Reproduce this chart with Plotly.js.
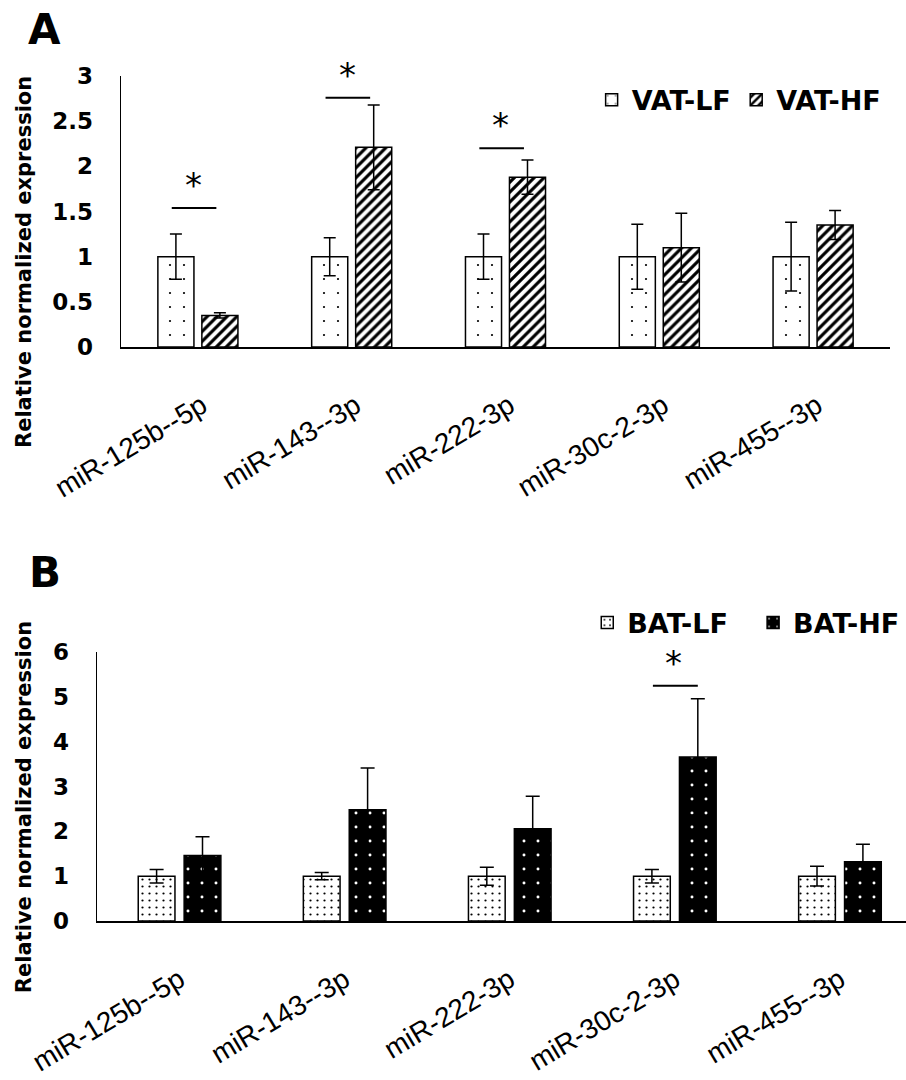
<!DOCTYPE html>
<html><head><meta charset="utf-8">
<script src="https://cdn.plot.ly/plotly-3.0.1.min.js"></script>
<style>
body{margin:0;background:#fff}
#a,#b{position:absolute;left:0;width:906px;height:540px}
#a{top:0} #b{top:540px}
</style>
</head><body>
<div id="a"></div><div id="b"></div>
<script>
// ---------- data ----------
const categories = ['miR-125b--5p','miR-143--3p','miR-222-3p','miR-30c-2-3p','miR-455--3p'];
const vatLF    = [1, 1, 1, 1, 1];
const vatLFerr = [0.25, 0.21, 0.25, 0.36, 0.38];
const vatHF    = [0.35, 2.21, 1.88, 1.10, 1.35];
const vatHFerr = [0.03, 0.47, 0.19, 0.38, 0.16];
const batLF    = [1, 1, 1, 1, 1];
const batLFerr = [0.15, 0.08, 0.20, 0.15, 0.22];
const batHF    = [1.46, 2.48, 2.06, 3.66, 1.32];
const batHFerr = [0.42, 0.93, 0.72, 1.30, 0.39];
const sigAidx = [0, 1, 2];
const sigAy   = [1.54, 2.76, 2.20];
const sigBidx = [3];
const sigBy   = [5.25];
const yTicksA = [0, 0.5, 1, 1.5, 2, 2.5, 3];
const yTicksB = [0, 1, 2, 3, 4, 5, 6];
const seriesNames = ['VAT-LF', 'VAT-HF', 'BAT-LF', 'BAT-HF'];
const yTitle = 'Relative normalized expression';

// ---------- helpers ----------
const BOLD = {family:'DejaVu Sans', weight:'bold', color:'#000'};
function barTrace(y, err, name, pattern, legend, capw){
  return {
    type:'bar', x:categories, y:y, name:name, legend:legend,
    marker:{color:pattern.bgcolor, line:{color:'#000', width:1.5}, pattern:pattern},
    error_y:{type:'data', array:err, visible:true, color:'#000', thickness:1.5, width:capw},
    hoverinfo:'skip'
  };
}
function sigShapes(idx, ys, dl, dr){
  return idx.map((c,i)=>({type:'line', xref:'x', yref:'y', x0:c+dl, x1:c+dr, y0:ys[i], y1:ys[i],
    line:{color:'#000', width:2}}));
}
function sigStars(idx, ys, dx){
  return idx.map((c,i)=>({xref:'x', yref:'y', x:c+dx, y:ys[i], text:'*', showarrow:false,
    yanchor:'bottom', yshift:1, font:{family:'DejaVu Sans', size:34, color:'#000'}}));
}
function axisX(range, shift){
  return {type:'category', range:range, showline:true, linecolor:'#000', linewidth:1.5,
    showgrid:false, zeroline:false, ticks:'', tickangle:-31,
    tickfont:{family:'Liberation Sans', size:28, color:'#000'},
    ticklabelstandoff:30, ticklabelshift:shift, fixedrange:true};
}
function axisY(range, tv){
  return {range:range, showline:true, linecolor:'#000', linewidth:1.5, showgrid:false,
    zeroline:false, ticks:'', tickvals:tv, ticktext:tv.map(String),
    tickfont:Object.assign({size:23}, BOLD), ticklabelstandoff:22, fixedrange:true};
}
function legendBox(x, y){
  return {orientation:'h', x:x, xanchor:'left', y:y, yanchor:'middle',
    font:Object.assign({size:27}, BOLD), bgcolor:'rgba(0,0,0,0)', borderwidth:0};
}

// ---------- panel A ----------
const tracesA = [
  barTrace(vatLF, vatLFerr, seriesNames[0],
    {shape:'.', bgcolor:'#fff', fgcolor:'#000', size:14, solidity:0.02, fillmode:'replace'}, 'legend', 6),
  barTrace(vatHF, vatHFerr, seriesNames[1],
    {shape:'/', bgcolor:'#fff', fgcolor:'#000', size:7, solidity:0.45, fillmode:'replace'}, 'legend2', 6)
];
const layoutA = {
  width:906, height:540, margin:{l:121, r:16, t:76, b:193},
  paper_bgcolor:'#fff', plot_bgcolor:'#fff', showlegend:true,
  barmode:'group', bargap:0.428, bargroupgap:0.18,
  xaxis:axisX([-0.5, 4.5], 4), yaxis:axisY([0, 3], yTicksA),
  legend:legendBox(0.612, 0.911), legend2:legendBox(0.800, 0.911),
  shapes:sigShapes(sigAidx, sigAy, -0.17, 0.12),
  annotations:[
    {xref:'paper', yref:'paper', x:-0.126, y:0.314, text:yTitle, textangle:-90, showarrow:false,
     xanchor:'center', yanchor:'middle', font:Object.assign({size:21}, BOLD)},
    {xref:'paper', yref:'paper', x:-0.100, y:1.173, text:'A', showarrow:false,
     xanchor:'center', yanchor:'middle', font:Object.assign({size:42}, BOLD)}
  ].concat(sigStars(sigAidx, sigAy, -0.03))
};

// ---------- panel B ----------
const tracesB = [
  barTrace(batLF, batLFerr, seriesNames[2],
    {shape:'.', bgcolor:'#fff', fgcolor:'#000', size:7, solidity:0.08, fillmode:'replace'}, 'legend', 7),
  barTrace(batHF, batHFerr, seriesNames[3],
    {shape:'.', bgcolor:'#000', fgcolor:'#fff', size:14, solidity:0.035, fillmode:'replace'}, 'legend2', 7)
];
const layoutB = {
  width:906, height:540, margin:{l:97, r:0, t:112, b:159},
  paper_bgcolor:'#fff', plot_bgcolor:'#fff', showlegend:true,
  barmode:'group', bargap:0.444, bargroupgap:0.2,
  xaxis:axisX([-0.5, 4.4], 0), yaxis:axisY([0, 6], yTicksB),
  legend:legendBox(0.606, 1.108), legend2:legendBox(0.811, 1.108),
  shapes:sigShapes(sigBidx, sigBy, -0.133, 0.139),
  annotations:[
    {xref:'paper', yref:'paper', x:-0.090, y:0.424, text:yTitle, textangle:-90, showarrow:false,
     xanchor:'center', yanchor:'middle', font:Object.assign({size:21}, BOLD)},
    {xref:'paper', yref:'paper', x:-0.064, y:1.297, text:'B', showarrow:false,
     xanchor:'center', yanchor:'middle', font:Object.assign({size:42}, BOLD)}
  ].concat(sigStars(sigBidx, sigBy, -0.01))
};

const cfg = {staticPlot:true, displayModeBar:false};
Plotly.newPlot('a', tracesA, layoutA, cfg);
Plotly.newPlot('b', tracesB, layoutB, cfg);
</script>
</body></html>
